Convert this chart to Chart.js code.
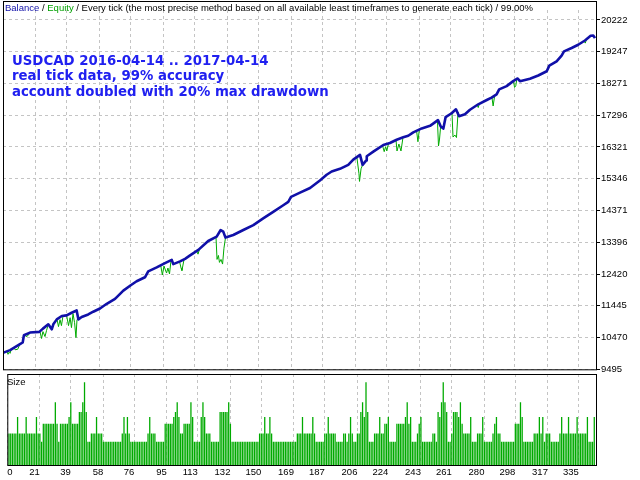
<!DOCTYPE html>
<html><head><meta charset="utf-8">
<script src="https://cdn.jsdelivr.net/npm/chart.js@4.4.1/dist/chart.umd.min.js"></script>
<style>
html,body{margin:0;padding:0;background:#fff;}
#wrap{position:relative;width:640px;height:480px;overflow:hidden;background:#fff;}
canvas{position:absolute;left:0;}
#main{top:0;}
#size{top:370px;}
.hdr{position:absolute;left:5px;top:3px;font-family:"Liberation Sans",Arial,sans-serif;font-size:9.5px;line-height:9.5px;white-space:nowrap;color:#000;}
.note{position:absolute;left:12px;top:52.6px;font-family:"DejaVu Sans",sans-serif;font-weight:bold;font-size:13.3px;line-height:15.5px;color:#2020f0;white-space:nowrap;}
.sizelbl{position:absolute;left:7px;top:377px;font-family:"Liberation Sans",Arial,sans-serif;font-size:9.5px;line-height:9.5px;color:#000;}
</style></head>
<body><div id="wrap">
<canvas id="main" width="640" height="376"></canvas>
<canvas id="size" width="640" height="110"></canvas>
<div class="hdr"><span style="color:#1010a8">Balance</span> / <span style="color:#00a000">Equity</span> / Every tick (the most precise method based on all available least timeframes to generate each tick) / 99.00%</div>
<div class="note">USDCAD 2016-04-14 .. 2017-04-14<br>real tick data, 99% accuracy<br>account doubled with 20% max drawdown</div>
<div class="sizelbl">Size</div>
</div>
<script>
// ---------- data ----------
const xTickLabels = [0,21,39,58,76,95,113,132,150,169,187,206,224,243,261,280,298,317,335];
const yTickLabels = [20222,19247,18271,17296,16321,15346,14371,13396,12420,11445,10470,9495];
const xMin = 2, xMax = 345;
const yMin = 9495, yMax = 20527;

const balanceTrades = [2,6.1,11.8,13.4,14.1,17.6,23,25.1,28.2,30.2,31.1,33.1,36,38.8,41.7,44.6,45.6,47.5,51.3,54.2,58.1,62,66.8,71.6,75.9,79.3,84.1,86,90.9,95.7,99.6,100.5,104.4,107.3,110.2,115,120.7,125.6,127.9,129.4,130.7,135.2,141,146.8,152.5,158.3,164.1,167,168.6,173.8,179.6,185.3,189.2,192.1,196.9,201.7,204.6,208.5,210,212,212.4,216.2,222,225.8,229.7,233.5,236.4,239.3,244.2,249,253.6,255.2,256.7,258,261.5,264,265.8,269.2,272.1,276.9,281.8,284.6,287.5,289,293.3,297.1,299.7,301,306.8,311.6,316.5,318,322.2,325.1,326.5,330.9,334.7,338.6,341.9,343.4,344.4];
const balanceValues = [10000,10083,10266,10318,10540,10623,10644,10744,10876,10723,10876,11028,11131,11150,11232,11302,11028,11101,11180,11263,11363,11506,11659,11912,12076,12198,12320,12503,12625,12756,12856,12725,12808,12887,12991,13161,13435,13569,13771,13722,13539,13618,13771,13923,14127,14331,14532,14636,14788,14919,15063,15294,15468,15569,15651,15773,15934,16078,15773,15904,16038,16178,16382,16443,16544,16617,16666,16769,16891,16970,17145,16952,16885,17236,17357,17479,17266,17327,17464,17632,17763,17836,17936,18089,18190,18342,18424,18342,18415,18516,18647,18820,18951,19125,19256,19360,19460,19591,19735,19744,19664];

// equity departures from balance (segments)
const equityTrades = [
 [4.3,4.9,5.5,6.1,6.7],
 [8.2,9.0,10.5,11.8],
 [14.5,15.3,16.5,17.6],
 [23.4,24.3,25.1,26.3,27.2,28.2],
 [33.2,34.1,35.0,35.8,36.7],
 [38.8,39.9,40.8,41.6,42.5,43.4,44.2,44.8,45.6],
 [93.2,94.2,95.1,96.6,97.4,98.3,99.2],
 [104.1,105.0,105.5,106.7],
 [113.9,114.8,115.7],
 [125.2,125.8,126.6,127.2,128.1,129.0,129.8,130.7],
 [206.7,207.9,208.2,209.1,210.0],
 [221.5,222.5,223.3,224.0,225.0],
 [229.3,229.9,231.0,232.2,233.3],
 [241.2,242.0,242.8],
 [253.3,253.9,254.5,255.1],
 [261.7,262.3,263.4,264.3,265.2,265.8],
 [276.3,276.9,277.5],
 [284.8,285.5,286.3],
 [297.3,297.9,298.6,299.2],
 [338.2,338.8,339.4]
];
const equityValues = [
 [10040,9955,10020,9985,10100],
 [10170,10095,10110,10266],
 [10550,10500,10531,10623],
 [10650,10440,10653,10500,10690,10876],
 [11035,10805,11019,10836,11135],
 [11150,10836,11080,10775,11202,10927,10470,11019,11028],
 [12690,12390,12665,12451,12604,12421,12847],
 [12802,12604,12527,12862],
 [13137,13030,13190],
 [13555,12869,12991,12778,12869,12726,13213,13539],
 [16002,15499,15264,15651,15773],
 [16365,16178,16330,16200,16430],
 [16535,16199,16412,16199,16590],
 [16830,16482,16850],
 [17113,16352,16565,16930],
 [17360,16626,16687,16611,17390,17266],
 [17610,17531,17650],
 [17840,17580,17870],
 [18340,18150,18200,18400],
 [19570,19510,19610]
];

// lot size per trade, starting at trade 3
const firstTrade = 3;
const sizes = [
 .19,.19,.19,.19,.19,.29,.19,.19,.19,.19,
 .29,.19,.19,.19,.19,.19,.29,.19,.19,.14,
 .25,.25,.25,.25,.25,.25,.25,.38,.25,.14,
 .25,.25,.25,.25,.25,.29,.38,.25,.25,.25,
 .25,.32,.32,.38,.50,.32,.14,.14,.19,.19,
 .19,.29,.19,.19,.19,.14,.14,.14,.14,.14,
 .14,.14,.14,.14,.14,.14,.19,.29,.19,.29,
 .19,.14,.14,.14,.14,.14,.14,.14,.14,.14,
 .14,.19,.29,.19,.19,.19,.14,.14,.14,.14,
 .14,.25,.25,.25,.25,.25,.29,.32,.38,.29,
 .19,.19,.25,.25,.25,.25,.38,.29,.14,.14,
 .14,.14,.29,.38,.29,.19,.19,.19,.14,.14,
 .14,.14,.14,.32,.32,.32,.32,.32,.38,.25,
 .14,.14,.14,.14,.14,.14,.14,.14,.14,.14,
 .14,.14,.14,.14,.14,.14,.19,.19,.19,.29,
 .19,.19,.29,.19,.14,.14,.14,.14,.14,.14,
 .14,.14,.14,.14,.14,.14,.14,.14,.19,.19,
 .19,.29,.19,.19,.19,.19,.19,.29,.19,.14,
 .14,.14,.14,.14,.19,.19,.29,.19,.19,.19,
 .19,.14,.14,.14,.14,.19,.19,.14,.19,.29,
 .19,.14,.14,.19,.19,.32,.38,.29,.50,.32,
 .14,.14,.14,.19,.19,.19,.29,.19,.19,.25,
 .25,.29,.14,.14,.14,.14,.25,.25,.25,.25,
 .25,.29,.38,.25,.29,.14,.14,.14,.19,.25,
 .29,.14,.14,.14,.14,.14,.14,.19,.19,.14,
 .32,.29,.38,.50,.38,.32,.14,.14,.19,.32,
 .32,.32,.29,.38,.25,.19,.19,.19,.19,.29,
 .14,.14,.14,.19,.19,.19,.29,.14,.14,.14,
 .14,.14,.19,.25,.29,.19,.19,.14,.14,.14,
 .14,.14,.14,.14,.14,.25,.25,.25,.38,.29,
 .14,.14,.14,.14,.14,.14,.19,.19,.19,.29,
 .19,.29,.14,.19,.19,.19,.14,.14,.14,.14,
 .14,.19,.29,.19,.19,.19,.29,.19,.19,.19,
 .19,.29,.19,.19,.19,.19,.19,.29,.14,.14,
 .14,.29
];
const sizeMax = 0.55;

// ---------- styles ----------
const BLUE = '#1010a8', GREEN = '#00aa00', GRID = '#c4c4c4';
const FONT = {family: '"Liberation Sans", Arial, sans-serif', size: 9.5};

const frame = {
  id: 'frame',
  afterDraw(chart, args, opts) {
    const {ctx, chartArea: a} = chart;
    ctx.save();
    ctx.strokeStyle = '#000'; ctx.lineWidth = 1;
    ctx.strokeRect(a.left + 0.5, a.top - opts.extraTop + 0.5, a.right - a.left, a.bottom - a.top + opts.extraTop);
    ctx.restore();
  }
};
const firstLabelLeft = {
  id: 'firstLabelLeft',
  beforeDraw(chart) {
    const sc = chart.scales.x;
    if (!sc.options.ticks.display) return;
    const items = sc.getLabelItems(chart.chartArea);
    if (items.length) items[0].options.textAlign = 'left';
  }
};

function xScale(showLabels) {
  return {
    type: 'linear', min: xMin, max: xMax, offset: false,
    afterBuildTicks: s => { s.ticks = xTickLabels.map(v => ({value: Math.max(v, xMin)})); },
    afterFit: s => { s.height = showLabels ? 15 : 0; },
    grid: {color: GRID, lineWidth: 1, drawTicks: false, offset: false},
    border: {display: false, dash: [3, 3]},
    ticks: {display: showLabels, autoSkip: false, maxRotation: 0, align: 'end', padding: 2,
            color: '#000', font: FONT, callback: (v, i) => String(xTickLabels[i])}
  };
}

// ---------- main chart ----------
const balanceData = balanceTrades.map((t, i) => ({x: t, y: balanceValues[i]}));
const equityData = [];
equityTrades.forEach((seg, s) => {
  seg.forEach((t, i) => equityData.push({x: t, y: equityValues[s][i]}));
  equityData.push({x: seg[seg.length - 1], y: null});
});

new Chart(document.getElementById('main'), {
  type: 'line',
  data: {datasets: [
    {label: 'Balance', data: balanceData, borderColor: BLUE, borderWidth: 2.6, pointRadius: 0, tension: 0, borderJoinStyle: 'round'},
    {label: 'Equity', data: equityData, borderColor: GREEN, borderWidth: 1, pointRadius: 0, tension: 0, spanGaps: false}
  ]},
  options: {
    responsive: false, animation: false, devicePixelRatio: 1,
    layout: {padding: {left: 3, top: 10, right: 0, bottom: 4}},
    plugins: {legend: {display: false}, tooltip: {enabled: false}, frame: {extraTop: 9}},
    scales: {
      x: xScale(false),
      y: {
        type: 'linear', position: 'right', min: yMin, max: yMax,
        afterBuildTicks: s => { s.ticks = yTickLabels.map(v => ({value: v})); },
        afterFit: s => { s.width = 44; },
        grid: {color: GRID, lineWidth: 1, drawTicks: true, tickLength: 4, tickColor: '#000', tickBorderDash: []},
        border: {display: false, dash: [3, 3]},
        ticks: {color: '#000', font: FONT, padding: 1, callback: (v, i) => String(yTickLabels[i])}
      }
    }
  },
  plugins: [frame]
});

// ---------- size chart ----------
const sizeData = sizes.map((v, i) => ({x: firstTrade + i, y: v}));
new Chart(document.getElementById('size'), {
  type: 'bar',
  data: {datasets: [{label: 'Size', data: sizeData, backgroundColor: GREEN, borderWidth: 0,
                     barPercentage: 0.75, categoryPercentage: 1}]},
  options: {
    responsive: false, animation: false, devicePixelRatio: 1,
    layout: {padding: {left: 3, top: 4, right: 0, bottom: 0}},
    plugins: {legend: {display: false}, tooltip: {enabled: false}, frame: {extraTop: 0}},
    scales: {
      x: xScale(true),
      y: {
        type: 'linear', position: 'right', min: 0, max: sizeMax,
        afterFit: s => { s.width = 44; },
        grid: {display: false}, border: {display: false}, ticks: {display: false}
      }
    }
  },
  plugins: [frame, firstLabelLeft]
});
</script>
</body></html>
